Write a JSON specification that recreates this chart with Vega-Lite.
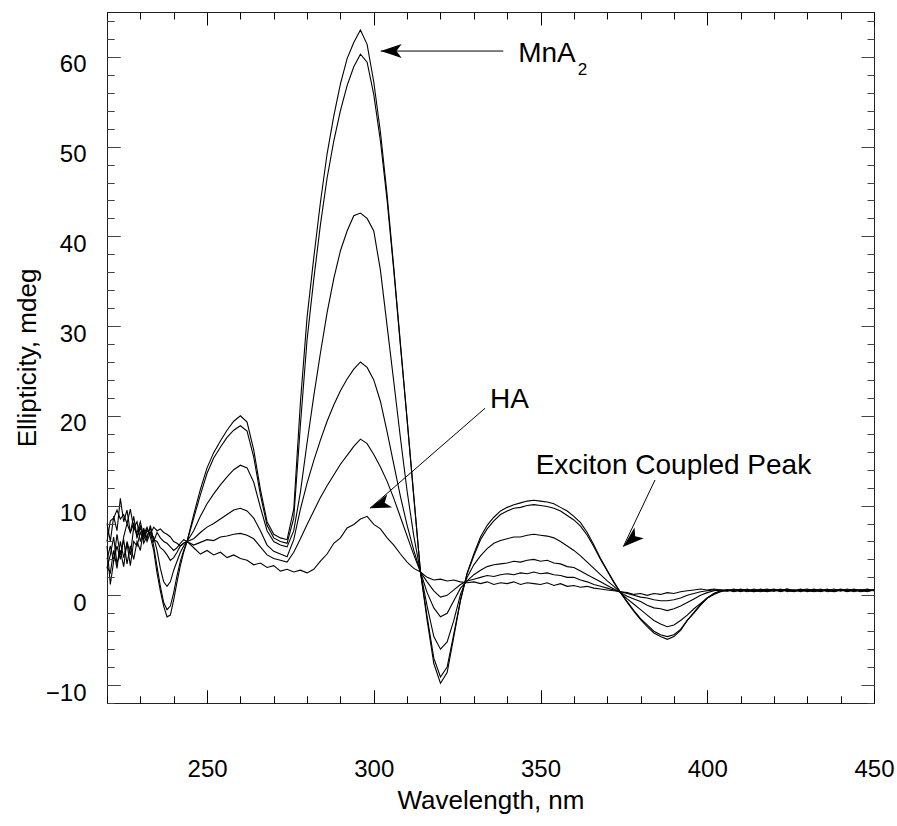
{
"$schema":"https://vega.github.io/schema/vega-lite/v6.json",
"width":767,"height":691,
"autosize":{"type":"none"},
"padding":{"left":107,"top":12,"right":23,"bottom":123},
"background":"white",
"config":{"view":{"stroke":"#222","strokeWidth":1,"fill":null},"font":"Liberation Sans"},
"datasets":{
"spectra":[
{"s":1,"w":220,"v":5.5},{"s":1,"w":221,"v":1.2},{"s":1,"w":222,"v":3.8},{"s":1,"w":223,"v":5.5},{"s":1,"w":224,"v":4.0},{"s":1,"w":225,"v":6.5},{"s":1,"w":226,"v":8.0},{"s":1,"w":227,"v":7.0},{"s":1,"w":228,"v":8.8},{"s":1,"w":229,"v":6.5},{"s":1,"w":230,"v":7.5},{"s":1,"w":231,"v":6.8},{"s":1,"w":232,"v":7.6},{"s":1,"w":233,"v":6.5},{"s":1,"w":234,"v":5.0},{"s":1,"w":235,"v":2.5},{"s":1,"w":236,"v":0.5},{"s":1,"w":237,"v":-1.2},{"s":1,"w":238,"v":-2.4},{"s":1,"w":239,"v":-2.2},{"s":1,"w":240,"v":-0.5},{"s":1,"w":241,"v":1.5},{"s":1,"w":242,"v":3.3},{"s":1,"w":243,"v":4.8},{"s":1,"w":244,"v":6.0},
{"s":1,"w":246,"v":9.0},{"s":1,"w":248,"v":11.8},{"s":1,"w":250,"v":14.2},{"s":1,"w":252,"v":15.9},{"s":1,"w":254,"v":17.2},{"s":1,"w":256,"v":18.4},{"s":1,"w":258,"v":19.4},{"s":1,"w":260,"v":20.0},{"s":1,"w":262,"v":19.3},{"s":1,"w":264,"v":16.2},{"s":1,"w":266,"v":11.8},{"s":1,"w":268,"v":8.2},{"s":1,"w":270,"v":6.8},{"s":1,"w":272,"v":6.4},{"s":1,"w":274,"v":6.2},{"s":1,"w":276,"v":9.6},{"s":1,"w":278,"v":21.5},{"s":1,"w":280,"v":31.0},{"s":1,"w":282,"v":37.6},{"s":1,"w":284,"v":43.8},{"s":1,"w":286,"v":49.2},{"s":1,"w":288,"v":53.4},{"s":1,"w":290,"v":57.0},{"s":1,"w":292,"v":59.8},{"s":1,"w":294,"v":61.6},{"s":1,"w":296,"v":63.0},{"s":1,"w":298,"v":61.4},{"s":1,"w":300,"v":57.2},{"s":1,"w":302,"v":51.6},{"s":1,"w":304,"v":44.6},{"s":1,"w":306,"v":36.5},{"s":1,"w":308,"v":28.0},{"s":1,"w":310,"v":19.6},{"s":1,"w":312,"v":11.0},{"s":1,"w":314,"v":2.6},{"s":1,"w":316,"v":-2.8},{"s":1,"w":318,"v":-7.6},{"s":1,"w":320,"v":-9.8},{"s":1,"w":322,"v":-8.6},{"s":1,"w":324,"v":-4.6},{"s":1,"w":326,"v":-0.6},{"s":1,"w":328,"v":2.5},{"s":1,"w":330,"v":4.6},{"s":1,"w":332,"v":6.5},{"s":1,"w":334,"v":7.8},{"s":1,"w":336,"v":8.7},{"s":1,"w":338,"v":9.4},{"s":1,"w":340,"v":9.8},{"s":1,"w":342,"v":10.1},{"s":1,"w":344,"v":10.3},{"s":1,"w":346,"v":10.5},{"s":1,"w":348,"v":10.6},{"s":1,"w":350,"v":10.5},{"s":1,"w":352,"v":10.4},{"s":1,"w":354,"v":10.2},{"s":1,"w":356,"v":9.8},{"s":1,"w":358,"v":9.4},{"s":1,"w":360,"v":8.8},{"s":1,"w":362,"v":8.1},{"s":1,"w":364,"v":7.0},{"s":1,"w":366,"v":5.6},{"s":1,"w":368,"v":4.1},{"s":1,"w":370,"v":2.8},{"s":1,"w":372,"v":1.5},{"s":1,"w":374,"v":0.3},{"s":1,"w":376,"v":-0.8},{"s":1,"w":378,"v":-1.8},{"s":1,"w":380,"v":-2.7},{"s":1,"w":382,"v":-3.5},{"s":1,"w":384,"v":-4.2},{"s":1,"w":386,"v":-4.6},{"s":1,"w":388,"v":-4.9},{"s":1,"w":390,"v":-4.6},{"s":1,"w":392,"v":-3.9},{"s":1,"w":394,"v":-2.8},{"s":1,"w":396,"v":-2.0},{"s":1,"w":398,"v":-1.1},{"s":1,"w":400,"v":-0.3},{"s":1,"w":402,"v":0.2},{"s":1,"w":404,"v":0.5},{"s":1,"w":406,"v":0.5},{"s":1,"w":408,"v":0.6},{"s":1,"w":410,"v":0.4},{"s":1,"w":412,"v":0.6},{"s":1,"w":414,"v":0.5},{"s":1,"w":416,"v":0.7},{"s":1,"w":418,"v":0.5},{"s":1,"w":420,"v":0.6},{"s":1,"w":422,"v":0.4},{"s":1,"w":424,"v":0.6},{"s":1,"w":426,"v":0.5},{"s":1,"w":428,"v":0.7},{"s":1,"w":430,"v":0.5},{"s":1,"w":432,"v":0.4},{"s":1,"w":434,"v":0.6},{"s":1,"w":436,"v":0.5},{"s":1,"w":438,"v":0.7},{"s":1,"w":440,"v":0.5},{"s":1,"w":442,"v":0.6},{"s":1,"w":444,"v":0.4},{"s":1,"w":446,"v":0.6},{"s":1,"w":448,"v":0.7},{"s":1,"w":450,"v":0.5},
{"s":2,"w":220,"v":3.0},{"s":2,"w":221,"v":4.5},{"s":2,"w":222,"v":6.5},{"s":2,"w":223,"v":3.5},{"s":2,"w":224,"v":5.0},{"s":2,"w":225,"v":3.2},{"s":2,"w":226,"v":6.0},{"s":2,"w":227,"v":4.5},{"s":2,"w":228,"v":7.5},{"s":2,"w":229,"v":8.2},{"s":2,"w":230,"v":6.0},{"s":2,"w":231,"v":7.2},{"s":2,"w":232,"v":6.0},{"s":2,"w":233,"v":7.0},{"s":2,"w":234,"v":5.5},{"s":2,"w":235,"v":3.2},{"s":2,"w":236,"v":1.0},{"s":2,"w":237,"v":-0.8},{"s":2,"w":238,"v":-1.6},{"s":2,"w":239,"v":-1.2},{"s":2,"w":240,"v":0.3},{"s":2,"w":241,"v":2.2},{"s":2,"w":242,"v":3.8},{"s":2,"w":243,"v":5.0},{"s":2,"w":244,"v":6.0},
{"s":2,"w":246,"v":8.6},{"s":2,"w":248,"v":11.2},{"s":2,"w":250,"v":13.6},{"s":2,"w":252,"v":15.3},{"s":2,"w":254,"v":16.5},{"s":2,"w":256,"v":17.6},{"s":2,"w":258,"v":18.4},{"s":2,"w":260,"v":18.9},{"s":2,"w":262,"v":18.3},{"s":2,"w":264,"v":15.4},{"s":2,"w":266,"v":11.2},{"s":2,"w":268,"v":7.8},{"s":2,"w":270,"v":6.4},{"s":2,"w":272,"v":6.0},{"s":2,"w":274,"v":5.8},{"s":2,"w":276,"v":8.6},{"s":2,"w":278,"v":19.0},{"s":2,"w":280,"v":28.5},{"s":2,"w":282,"v":35.2},{"s":2,"w":284,"v":41.3},{"s":2,"w":286,"v":46.5},{"s":2,"w":288,"v":50.6},{"s":2,"w":290,"v":54.0},{"s":2,"w":292,"v":56.8},{"s":2,"w":294,"v":58.9},{"s":2,"w":296,"v":60.3},{"s":2,"w":298,"v":59.4},{"s":2,"w":300,"v":55.8},{"s":2,"w":302,"v":50.6},{"s":2,"w":304,"v":44.0},{"s":2,"w":306,"v":36.2},{"s":2,"w":308,"v":27.8},{"s":2,"w":310,"v":19.5},{"s":2,"w":312,"v":11.0},{"s":2,"w":314,"v":2.6},{"s":2,"w":316,"v":-2.4},{"s":2,"w":318,"v":-7.0},{"s":2,"w":320,"v":-9.1},{"s":2,"w":322,"v":-8.0},{"s":2,"w":324,"v":-4.3},{"s":2,"w":326,"v":-0.5},{"s":2,"w":328,"v":2.4},{"s":2,"w":330,"v":4.4},{"s":2,"w":332,"v":6.2},{"s":2,"w":334,"v":7.4},{"s":2,"w":336,"v":8.3},{"s":2,"w":338,"v":9.0},{"s":2,"w":340,"v":9.4},{"s":2,"w":342,"v":9.7},{"s":2,"w":344,"v":9.8},{"s":2,"w":346,"v":10.0},{"s":2,"w":348,"v":10.1},{"s":2,"w":350,"v":10.0},{"s":2,"w":352,"v":9.9},{"s":2,"w":354,"v":9.7},{"s":2,"w":356,"v":9.4},{"s":2,"w":358,"v":8.9},{"s":2,"w":360,"v":8.4},{"s":2,"w":362,"v":7.7},{"s":2,"w":364,"v":6.7},{"s":2,"w":366,"v":5.4},{"s":2,"w":368,"v":4.0},{"s":2,"w":370,"v":2.7},{"s":2,"w":372,"v":1.4},{"s":2,"w":374,"v":0.3},{"s":2,"w":376,"v":-0.7},{"s":2,"w":378,"v":-1.7},{"s":2,"w":380,"v":-2.6},{"s":2,"w":382,"v":-3.3},{"s":2,"w":384,"v":-4.0},{"s":2,"w":386,"v":-4.4},{"s":2,"w":388,"v":-4.6},{"s":2,"w":390,"v":-4.4},{"s":2,"w":392,"v":-3.8},{"s":2,"w":394,"v":-2.8},{"s":2,"w":396,"v":-1.9},{"s":2,"w":398,"v":-1.0},{"s":2,"w":400,"v":-0.3},{"s":2,"w":402,"v":0.2},{"s":2,"w":404,"v":0.5},{"s":2,"w":406,"v":0.6},{"s":2,"w":408,"v":0.5},{"s":2,"w":410,"v":0.7},{"s":2,"w":412,"v":0.5},{"s":2,"w":414,"v":0.4},{"s":2,"w":416,"v":0.6},{"s":2,"w":418,"v":0.7},{"s":2,"w":420,"v":0.5},{"s":2,"w":422,"v":0.6},{"s":2,"w":424,"v":0.5},{"s":2,"w":426,"v":0.4},{"s":2,"w":428,"v":0.6},{"s":2,"w":430,"v":0.7},{"s":2,"w":432,"v":0.5},{"s":2,"w":434,"v":0.5},{"s":2,"w":436,"v":0.7},{"s":2,"w":438,"v":0.4},{"s":2,"w":440,"v":0.6},{"s":2,"w":442,"v":0.5},{"s":2,"w":444,"v":0.7},{"s":2,"w":446,"v":0.5},{"s":2,"w":448,"v":0.6},{"s":2,"w":450,"v":0.6},
{"s":3,"w":220,"v":6.0},{"s":3,"w":221,"v":8.3},{"s":3,"w":222,"v":8.6},{"s":3,"w":223,"v":9.5},{"s":3,"w":224,"v":8.5},{"s":3,"w":225,"v":9.0},{"s":3,"w":226,"v":8.0},{"s":3,"w":227,"v":9.6},{"s":3,"w":228,"v":7.5},{"s":3,"w":229,"v":7.0},{"s":3,"w":230,"v":8.2},{"s":3,"w":231,"v":6.5},{"s":3,"w":232,"v":7.4},{"s":3,"w":233,"v":6.8},{"s":3,"w":234,"v":6.5},{"s":3,"w":235,"v":5.0},{"s":3,"w":236,"v":3.0},{"s":3,"w":237,"v":1.5},{"s":3,"w":238,"v":1.0},{"s":3,"w":239,"v":1.5},{"s":3,"w":240,"v":2.8},{"s":3,"w":241,"v":3.8},{"s":3,"w":242,"v":4.8},{"s":3,"w":243,"v":5.5},{"s":3,"w":244,"v":6.0},
{"s":3,"w":246,"v":7.2},{"s":3,"w":248,"v":8.8},{"s":3,"w":250,"v":10.2},{"s":3,"w":252,"v":11.3},{"s":3,"w":254,"v":12.3},{"s":3,"w":256,"v":13.2},{"s":3,"w":258,"v":14.0},{"s":3,"w":260,"v":14.5},{"s":3,"w":262,"v":14.2},{"s":3,"w":264,"v":12.6},{"s":3,"w":266,"v":9.8},{"s":3,"w":268,"v":7.2},{"s":3,"w":270,"v":6.0},{"s":3,"w":272,"v":5.6},{"s":3,"w":274,"v":5.4},{"s":3,"w":276,"v":7.2},{"s":3,"w":278,"v":11.5},{"s":3,"w":280,"v":17.0},{"s":3,"w":282,"v":22.2},{"s":3,"w":284,"v":27.0},{"s":3,"w":286,"v":31.5},{"s":3,"w":288,"v":35.3},{"s":3,"w":290,"v":38.4},{"s":3,"w":292,"v":40.6},{"s":3,"w":294,"v":42.3},{"s":3,"w":296,"v":42.6},{"s":3,"w":298,"v":42.0},{"s":3,"w":300,"v":40.6},{"s":3,"w":302,"v":36.2},{"s":3,"w":304,"v":30.0},{"s":3,"w":306,"v":23.8},{"s":3,"w":308,"v":17.5},{"s":3,"w":310,"v":11.6},{"s":3,"w":312,"v":6.6},{"s":3,"w":314,"v":2.6},{"s":3,"w":316,"v":-1.2},{"s":3,"w":318,"v":-4.6},{"s":3,"w":320,"v":-6.0},{"s":3,"w":322,"v":-5.2},{"s":3,"w":324,"v":-2.8},{"s":3,"w":326,"v":0.1},{"s":3,"w":328,"v":2.0},{"s":3,"w":330,"v":3.4},{"s":3,"w":332,"v":4.4},{"s":3,"w":334,"v":5.2},{"s":3,"w":336,"v":5.8},{"s":3,"w":338,"v":6.1},{"s":3,"w":340,"v":6.3},{"s":3,"w":342,"v":6.5},{"s":3,"w":344,"v":6.5},{"s":3,"w":346,"v":6.7},{"s":3,"w":348,"v":6.8},{"s":3,"w":350,"v":6.7},{"s":3,"w":352,"v":6.6},{"s":3,"w":354,"v":6.4},{"s":3,"w":356,"v":6.0},{"s":3,"w":358,"v":5.5},{"s":3,"w":360,"v":5.0},{"s":3,"w":362,"v":4.4},{"s":3,"w":364,"v":3.7},{"s":3,"w":366,"v":3.0},{"s":3,"w":368,"v":2.3},{"s":3,"w":370,"v":1.6},{"s":3,"w":372,"v":1.0},{"s":3,"w":374,"v":0.3},{"s":3,"w":376,"v":-0.4},{"s":3,"w":378,"v":-1.0},{"s":3,"w":380,"v":-1.6},{"s":3,"w":382,"v":-2.2},{"s":3,"w":384,"v":-2.8},{"s":3,"w":386,"v":-3.2},{"s":3,"w":388,"v":-3.5},{"s":3,"w":390,"v":-3.3},{"s":3,"w":392,"v":-2.8},{"s":3,"w":394,"v":-2.2},{"s":3,"w":396,"v":-1.5},{"s":3,"w":398,"v":-0.9},{"s":3,"w":400,"v":-0.3},{"s":3,"w":402,"v":0.1},{"s":3,"w":404,"v":0.4},{"s":3,"w":406,"v":0.6},{"s":3,"w":408,"v":0.5},{"s":3,"w":410,"v":0.6},{"s":3,"w":412,"v":0.4},{"s":3,"w":414,"v":0.6},{"s":3,"w":416,"v":0.5},{"s":3,"w":418,"v":0.6},{"s":3,"w":420,"v":0.7},{"s":3,"w":422,"v":0.5},{"s":3,"w":424,"v":0.6},{"s":3,"w":426,"v":0.6},{"s":3,"w":428,"v":0.4},{"s":3,"w":430,"v":0.6},{"s":3,"w":432,"v":0.6},{"s":3,"w":434,"v":0.4},{"s":3,"w":436,"v":0.6},{"s":3,"w":438,"v":0.6},{"s":3,"w":440,"v":0.5},{"s":3,"w":442,"v":0.7},{"s":3,"w":444,"v":0.5},{"s":3,"w":446,"v":0.6},{"s":3,"w":448,"v":0.5},{"s":3,"w":450,"v":0.6},
{"s":4,"w":220,"v":8.0},{"s":4,"w":221,"v":6.0},{"s":4,"w":222,"v":8.8},{"s":4,"w":223,"v":7.2},{"s":4,"w":224,"v":10.8},{"s":4,"w":225,"v":8.2},{"s":4,"w":226,"v":9.5},{"s":4,"w":227,"v":7.0},{"s":4,"w":228,"v":8.0},{"s":4,"w":229,"v":6.5},{"s":4,"w":230,"v":7.8},{"s":4,"w":231,"v":5.8},{"s":4,"w":232,"v":6.6},{"s":4,"w":233,"v":7.5},{"s":4,"w":234,"v":6.2},{"s":4,"w":235,"v":6.0},{"s":4,"w":236,"v":5.3},{"s":4,"w":237,"v":5.0},{"s":4,"w":238,"v":4.5},{"s":4,"w":239,"v":3.9},{"s":4,"w":240,"v":4.2},{"s":4,"w":241,"v":4.8},{"s":4,"w":242,"v":5.5},{"s":4,"w":243,"v":5.8},{"s":4,"w":244,"v":6.0},
{"s":4,"w":246,"v":6.3},{"s":4,"w":248,"v":7.0},{"s":4,"w":250,"v":7.6},{"s":4,"w":252,"v":8.0},{"s":4,"w":254,"v":8.5},{"s":4,"w":256,"v":9.0},{"s":4,"w":258,"v":9.5},{"s":4,"w":260,"v":9.7},{"s":4,"w":262,"v":9.4},{"s":4,"w":264,"v":8.6},{"s":4,"w":266,"v":7.2},{"s":4,"w":268,"v":5.6},{"s":4,"w":270,"v":4.9},{"s":4,"w":272,"v":4.6},{"s":4,"w":274,"v":4.3},{"s":4,"w":276,"v":6.2},{"s":4,"w":278,"v":9.6},{"s":4,"w":280,"v":12.5},{"s":4,"w":282,"v":15.0},{"s":4,"w":284,"v":17.3},{"s":4,"w":286,"v":19.4},{"s":4,"w":288,"v":21.2},{"s":4,"w":290,"v":22.8},{"s":4,"w":292,"v":24.1},{"s":4,"w":294,"v":25.2},{"s":4,"w":296,"v":26.0},{"s":4,"w":298,"v":25.4},{"s":4,"w":300,"v":24.0},{"s":4,"w":302,"v":21.6},{"s":4,"w":304,"v":18.2},{"s":4,"w":306,"v":14.6},{"s":4,"w":308,"v":11.0},{"s":4,"w":310,"v":7.8},{"s":4,"w":312,"v":5.0},{"s":4,"w":314,"v":2.6},{"s":4,"w":316,"v":0.3},{"s":4,"w":318,"v":-1.4},{"s":4,"w":320,"v":-2.4},{"s":4,"w":322,"v":-2.0},{"s":4,"w":324,"v":-0.6},{"s":4,"w":326,"v":0.8},{"s":4,"w":328,"v":1.6},{"s":4,"w":330,"v":2.3},{"s":4,"w":332,"v":2.8},{"s":4,"w":334,"v":3.2},{"s":4,"w":336,"v":3.4},{"s":4,"w":338,"v":3.5},{"s":4,"w":340,"v":3.6},{"s":4,"w":342,"v":3.8},{"s":4,"w":344,"v":3.7},{"s":4,"w":346,"v":3.9},{"s":4,"w":348,"v":4.0},{"s":4,"w":350,"v":3.8},{"s":4,"w":352,"v":3.9},{"s":4,"w":354,"v":3.6},{"s":4,"w":356,"v":3.5},{"s":4,"w":358,"v":3.2},{"s":4,"w":360,"v":3.1},{"s":4,"w":362,"v":2.7},{"s":4,"w":364,"v":2.3},{"s":4,"w":366,"v":1.9},{"s":4,"w":368,"v":1.5},{"s":4,"w":370,"v":1.1},{"s":4,"w":372,"v":0.7},{"s":4,"w":374,"v":0.3},{"s":4,"w":376,"v":-0.1},{"s":4,"w":378,"v":-0.4},{"s":4,"w":380,"v":-0.7},{"s":4,"w":382,"v":-1.1},{"s":4,"w":384,"v":-1.4},{"s":4,"w":386,"v":-1.5},{"s":4,"w":388,"v":-1.7},{"s":4,"w":390,"v":-1.5},{"s":4,"w":392,"v":-1.2},{"s":4,"w":394,"v":-0.8},{"s":4,"w":396,"v":-0.4},{"s":4,"w":398,"v":0.0},{"s":4,"w":400,"v":0.3},{"s":4,"w":402,"v":0.5},{"s":4,"w":404,"v":0.6},{"s":4,"w":406,"v":0.5},{"s":4,"w":408,"v":0.6},{"s":4,"w":410,"v":0.5},{"s":4,"w":412,"v":0.7},{"s":4,"w":414,"v":0.4},{"s":4,"w":416,"v":0.6},{"s":4,"w":418,"v":0.5},{"s":4,"w":420,"v":0.5},{"s":4,"w":422,"v":0.7},{"s":4,"w":424,"v":0.4},{"s":4,"w":426,"v":0.6},{"s":4,"w":428,"v":0.5},{"s":4,"w":430,"v":0.6},{"s":4,"w":432,"v":0.5},{"s":4,"w":434,"v":0.7},{"s":4,"w":436,"v":0.4},{"s":4,"w":438,"v":0.5},{"s":4,"w":440,"v":0.6},{"s":4,"w":442,"v":0.4},{"s":4,"w":444,"v":0.6},{"s":4,"w":446,"v":0.5},{"s":4,"w":448,"v":0.6},{"s":4,"w":450,"v":0.5},
{"s":5,"w":220,"v":4.0},{"s":5,"w":221,"v":5.5},{"s":5,"w":222,"v":3.8},{"s":5,"w":223,"v":6.8},{"s":5,"w":224,"v":4.5},{"s":5,"w":225,"v":6.2},{"s":5,"w":226,"v":3.5},{"s":5,"w":227,"v":5.5},{"s":5,"w":228,"v":4.0},{"s":5,"w":229,"v":6.0},{"s":5,"w":230,"v":5.0},{"s":5,"w":231,"v":7.5},{"s":5,"w":232,"v":6.3},{"s":5,"w":233,"v":7.8},{"s":5,"w":234,"v":6.0},{"s":5,"w":235,"v":7.0},{"s":5,"w":236,"v":6.4},{"s":5,"w":237,"v":6.0},{"s":5,"w":238,"v":5.8},{"s":5,"w":239,"v":5.4},{"s":5,"w":240,"v":5.0},{"s":5,"w":241,"v":5.3},{"s":5,"w":242,"v":5.8},{"s":5,"w":243,"v":6.2},{"s":5,"w":244,"v":6.0},
{"s":5,"w":246,"v":5.6},{"s":5,"w":248,"v":5.9},{"s":5,"w":250,"v":6.2},{"s":5,"w":252,"v":6.1},{"s":5,"w":254,"v":6.5},{"s":5,"w":256,"v":6.6},{"s":5,"w":258,"v":6.8},{"s":5,"w":260,"v":6.9},{"s":5,"w":262,"v":6.7},{"s":5,"w":264,"v":6.3},{"s":5,"w":266,"v":5.4},{"s":5,"w":268,"v":4.5},{"s":5,"w":270,"v":4.1},{"s":5,"w":272,"v":3.9},{"s":5,"w":274,"v":3.7},{"s":5,"w":276,"v":4.8},{"s":5,"w":278,"v":6.3},{"s":5,"w":280,"v":7.9},{"s":5,"w":282,"v":9.4},{"s":5,"w":284,"v":10.9},{"s":5,"w":286,"v":12.2},{"s":5,"w":288,"v":13.4},{"s":5,"w":290,"v":14.6},{"s":5,"w":292,"v":15.6},{"s":5,"w":294,"v":16.6},{"s":5,"w":296,"v":17.4},{"s":5,"w":298,"v":16.9},{"s":5,"w":300,"v":15.7},{"s":5,"w":302,"v":14.3},{"s":5,"w":304,"v":12.7},{"s":5,"w":306,"v":10.8},{"s":5,"w":308,"v":8.7},{"s":5,"w":310,"v":6.6},{"s":5,"w":312,"v":4.5},{"s":5,"w":314,"v":2.6},{"s":5,"w":316,"v":1.5},{"s":5,"w":318,"v":0.5},{"s":5,"w":320,"v":-0.2},{"s":5,"w":322,"v":0.0},{"s":5,"w":324,"v":0.6},{"s":5,"w":326,"v":1.2},{"s":5,"w":328,"v":1.6},{"s":5,"w":330,"v":1.8},{"s":5,"w":332,"v":2.0},{"s":5,"w":334,"v":2.2},{"s":5,"w":336,"v":2.1},{"s":5,"w":338,"v":2.3},{"s":5,"w":340,"v":2.4},{"s":5,"w":342,"v":2.3},{"s":5,"w":344,"v":2.5},{"s":5,"w":346,"v":2.4},{"s":5,"w":348,"v":2.6},{"s":5,"w":350,"v":2.4},{"s":5,"w":352,"v":2.5},{"s":5,"w":354,"v":2.3},{"s":5,"w":356,"v":2.2},{"s":5,"w":358,"v":2.0},{"s":5,"w":360,"v":2.0},{"s":5,"w":362,"v":1.7},{"s":5,"w":364,"v":1.5},{"s":5,"w":366,"v":1.2},{"s":5,"w":368,"v":1.0},{"s":5,"w":370,"v":0.8},{"s":5,"w":372,"v":0.6},{"s":5,"w":374,"v":0.4},{"s":5,"w":376,"v":0.2},{"s":5,"w":378,"v":0.0},{"s":5,"w":380,"v":-0.2},{"s":5,"w":382,"v":-0.3},{"s":5,"w":384,"v":-0.5},{"s":5,"w":386,"v":-0.6},{"s":5,"w":388,"v":-0.6},{"s":5,"w":390,"v":-0.5},{"s":5,"w":392,"v":-0.3},{"s":5,"w":394,"v":0.0},{"s":5,"w":396,"v":0.2},{"s":5,"w":398,"v":0.4},{"s":5,"w":400,"v":0.5},{"s":5,"w":402,"v":0.6},{"s":5,"w":404,"v":0.5},{"s":5,"w":406,"v":0.6},{"s":5,"w":408,"v":0.4},{"s":5,"w":410,"v":0.6},{"s":5,"w":412,"v":0.5},{"s":5,"w":414,"v":0.7},{"s":5,"w":416,"v":0.5},{"s":5,"w":418,"v":0.4},{"s":5,"w":420,"v":0.6},{"s":5,"w":422,"v":0.5},{"s":5,"w":424,"v":0.7},{"s":5,"w":426,"v":0.5},{"s":5,"w":428,"v":0.6},{"s":5,"w":430,"v":0.4},{"s":5,"w":432,"v":0.6},{"s":5,"w":434,"v":0.5},{"s":5,"w":436,"v":0.6},{"s":5,"w":438,"v":0.5},{"s":5,"w":440,"v":0.7},{"s":5,"w":442,"v":0.5},{"s":5,"w":444,"v":0.6},{"s":5,"w":446,"v":0.4},{"s":5,"w":448,"v":0.5},{"s":5,"w":450,"v":0.6},
{"s":6,"w":220,"v":3.2},{"s":6,"w":221,"v":2.5},{"s":6,"w":222,"v":5.0},{"s":6,"w":223,"v":3.0},{"s":6,"w":224,"v":6.0},{"s":6,"w":225,"v":4.2},{"s":6,"w":226,"v":5.8},{"s":6,"w":227,"v":3.3},{"s":6,"w":228,"v":6.0},{"s":6,"w":229,"v":5.5},{"s":6,"w":230,"v":7.0},{"s":6,"w":231,"v":6.2},{"s":6,"w":232,"v":7.2},{"s":6,"w":233,"v":6.8},{"s":6,"w":234,"v":7.6},{"s":6,"w":235,"v":7.2},{"s":6,"w":236,"v":7.4},{"s":6,"w":237,"v":7.0},{"s":6,"w":238,"v":6.8},{"s":6,"w":239,"v":6.5},{"s":6,"w":240,"v":6.0},{"s":6,"w":241,"v":5.8},{"s":6,"w":242,"v":5.5},{"s":6,"w":243,"v":5.8},{"s":6,"w":244,"v":6.0},
{"s":6,"w":246,"v":5.3},{"s":6,"w":248,"v":4.6},{"s":6,"w":250,"v":5.0},{"s":6,"w":252,"v":4.5},{"s":6,"w":254,"v":4.8},{"s":6,"w":256,"v":4.2},{"s":6,"w":258,"v":4.5},{"s":6,"w":260,"v":4.1},{"s":6,"w":262,"v":3.9},{"s":6,"w":264,"v":3.4},{"s":6,"w":266,"v":3.6},{"s":6,"w":268,"v":3.1},{"s":6,"w":270,"v":3.3},{"s":6,"w":272,"v":2.7},{"s":6,"w":274,"v":2.9},{"s":6,"w":276,"v":2.6},{"s":6,"w":278,"v":2.8},{"s":6,"w":280,"v":2.5},{"s":6,"w":282,"v":2.9},{"s":6,"w":284,"v":3.8},{"s":6,"w":286,"v":4.6},{"s":6,"w":288,"v":5.8},{"s":6,"w":290,"v":6.4},{"s":6,"w":292,"v":7.5},{"s":6,"w":294,"v":7.9},{"s":6,"w":296,"v":8.5},{"s":6,"w":298,"v":8.8},{"s":6,"w":300,"v":7.9},{"s":6,"w":302,"v":7.4},{"s":6,"w":304,"v":6.4},{"s":6,"w":306,"v":5.6},{"s":6,"w":308,"v":4.6},{"s":6,"w":310,"v":3.7},{"s":6,"w":312,"v":3.0},{"s":6,"w":314,"v":2.6},{"s":6,"w":316,"v":2.0},{"s":6,"w":318,"v":1.7},{"s":6,"w":320,"v":1.8},{"s":6,"w":322,"v":1.6},{"s":6,"w":324,"v":1.7},{"s":6,"w":326,"v":1.5},{"s":6,"w":328,"v":1.4},{"s":6,"w":330,"v":1.5},{"s":6,"w":332,"v":1.3},{"s":6,"w":334,"v":1.5},{"s":6,"w":336,"v":1.2},{"s":6,"w":338,"v":1.4},{"s":6,"w":340,"v":1.3},{"s":6,"w":342,"v":1.5},{"s":6,"w":344,"v":1.2},{"s":6,"w":346,"v":1.4},{"s":6,"w":348,"v":1.3},{"s":6,"w":350,"v":1.2},{"s":6,"w":352,"v":1.4},{"s":6,"w":354,"v":1.1},{"s":6,"w":356,"v":1.3},{"s":6,"w":358,"v":1.0},{"s":6,"w":360,"v":1.1},{"s":6,"w":362,"v":0.9},{"s":6,"w":364,"v":1.0},{"s":6,"w":366,"v":0.8},{"s":6,"w":368,"v":0.7},{"s":6,"w":370,"v":0.6},{"s":6,"w":372,"v":0.5},{"s":6,"w":374,"v":0.4},{"s":6,"w":376,"v":0.3},{"s":6,"w":378,"v":0.1},{"s":6,"w":380,"v":0.2},{"s":6,"w":382,"v":0.0},{"s":6,"w":384,"v":0.2},{"s":6,"w":386,"v":0.1},{"s":6,"w":388,"v":0.3},{"s":6,"w":390,"v":0.2},{"s":6,"w":392,"v":0.4},{"s":6,"w":394,"v":0.5},{"s":6,"w":396,"v":0.6},{"s":6,"w":398,"v":0.7},{"s":6,"w":400,"v":0.6},{"s":6,"w":402,"v":0.7},{"s":6,"w":404,"v":0.6},{"s":6,"w":406,"v":0.5},{"s":6,"w":408,"v":0.7},{"s":6,"w":410,"v":0.5},{"s":6,"w":412,"v":0.6},{"s":6,"w":414,"v":0.5},{"s":6,"w":416,"v":0.4},{"s":6,"w":418,"v":0.6},{"s":6,"w":420,"v":0.5},{"s":6,"w":422,"v":0.6},{"s":6,"w":424,"v":0.7},{"s":6,"w":426,"v":0.5},{"s":6,"w":428,"v":0.6},{"s":6,"w":430,"v":0.5},{"s":6,"w":432,"v":0.7},{"s":6,"w":434,"v":0.5},{"s":6,"w":436,"v":0.6},{"s":6,"w":438,"v":0.4},{"s":6,"w":440,"v":0.6},{"s":6,"w":442,"v":0.5},{"s":6,"w":444,"v":0.6},{"s":6,"w":446,"v":0.6},{"s":6,"w":448,"v":0.4},{"s":6,"w":450,"v":0.6}
],
"arrows":[
{"arrow":"MnA2","w":302.07,"v":60.65,"w2":338.84,"v2":60.65},
{"arrow":"HA","w":298.86,"v":9.7,"w2":333.35,"v2":20.84},
{"arrow":"Exciton","w":374.82,"v":5.42,"w2":384.33,"v2":12.85}
],
"notes":[
{"t":"MnA","w":343.3,"v":59.46},
{"t":"HA","w":334.85,"v":20.84},
{"t":"Exciton Coupled Peak","w":348.55,"v":13.52}
],
"subs":[
{"t":"2","w":361.2,"v":57.97}
]
},
"layer":[
{
"data":{"name":"spectra"},
"mark":{"type":"line","color":"black","strokeWidth":1.1},
"encoding":{
"x":{"field":"w","type":"quantitative","scale":{"domain":[220,450],"nice":false,"zero":false},
"axis":{"orient":"bottom","zindex":1,"tickCount":100,"values":[220,230,240,250,260,270,280,290,300,310,320,330,340,350,360,370,380,390,400,410,420,430,440,450],
"domain":false,"ticks":true,"tickColor":"black","tickWidth":1,"tickOpacity":1,
"tickSize":{"condition":{"test":"datum.value % 50 === 0","value":-13},"value":-7},
"grid":true,"gridColor":"black","gridOpacity":1,"gridWidth":1,
"gridDash":{"condition":{"test":"datum.value % 50 === 0","value":[13,665]},"value":[7,677]},
"labelExpr":"datum.value % 50 === 0 ? datum.label : ''",
"labelPadding":67,"labelFontSize":24,"labelColor":"black","labelFlush":false,"labelOverlap":false,"labelBound":false,
"title":"Wavelength, nm","titleFontSize":26,"titleFontWeight":"normal","titleColor":"black",
"titleX":383.5,"titleY":97,"titleAlign":"center","titleBaseline":"middle","titleAngle":0}},
"y":{"field":"v","type":"quantitative","scale":{"domain":[-12,65],"nice":false,"zero":false},
"axis":{"orient":"left","zindex":1,"tickCount":100,"values":[-12,-10,-8,-6,-4,-2,0,2,4,6,8,10,12,14,16,18,20,22,24,26,28,30,32,34,36,38,40,42,44,46,48,50,52,54,56,58,60,62,64],
"domain":false,"ticks":true,"tickColor":"#444","tickWidth":1,"tickOpacity":1,
"tickSize":{"condition":{"test":"datum.value % 10 === 0","value":-13},"value":-7},
"grid":true,"gridColor":"#444","gridOpacity":1,"gridWidth":1,
"gridDash":{"condition":{"test":"datum.value % 10 === 0","value":[13,741]},"value":[7,753]},
"labelExpr":"datum.value % 10 === 0 ? datum.label : ''",
"labelPadding":34,"labelOffset":8,"labelBaseline":"middle","labelFontSize":24,"labelColor":"black","labelFlush":false,"labelOverlap":false,"labelBound":false,
"title":"Ellipticity, mdeg","titleFontSize":26,"titleFontWeight":"normal","titleColor":"black",
"titleX":-80,"titleY":345.5,"titleAngle":-90,"titleAlign":"center","titleBaseline":"middle"}},
"detail":{"field":"s","type":"nominal"}
}
},
{
"data":{"name":"arrows"},
"mark":{"type":"rule","color":"black","strokeWidth":1},
"encoding":{
"x":{"field":"w","type":"quantitative","scale":{"domain":[220,450],"nice":false,"zero":false}},
"x2":{"field":"w2"},
"y":{"field":"v","type":"quantitative","scale":{"domain":[-12,65],"nice":false,"zero":false}},
"y2":{"field":"v2"}
}
},
{
"data":{"name":"arrows"},
"mark":{"type":"point","shape":"M0,0L-2,-0.67L-1.5,0L-2,0.67Z","filled":true,"color":"black","size":441,"opacity":1,"strokeWidth":0},
"encoding":{
"x":{"field":"w","type":"quantitative","scale":{"domain":[220,450],"nice":false,"zero":false}},
"y":{"field":"v","type":"quantitative","scale":{"domain":[-12,65],"nice":false,"zero":false}},
"angle":{"field":"arrow","type":"nominal","scale":{"domain":["MnA2","HA","Exciton"],"range":[180,139,115.4]},"legend":null}
}
},
{
"data":{"name":"notes"},
"mark":{"type":"text","fontSize":28,"color":"black","align":"left","baseline":"alphabetic"},
"encoding":{
"x":{"field":"w","type":"quantitative","scale":{"domain":[220,450],"nice":false,"zero":false}},
"y":{"field":"v","type":"quantitative","scale":{"domain":[-12,65],"nice":false,"zero":false}},
"text":{"field":"t"}
}
},
{
"data":{"name":"subs"},
"mark":{"type":"text","fontSize":17,"color":"black","align":"left","baseline":"alphabetic"},
"encoding":{
"x":{"field":"w","type":"quantitative","scale":{"domain":[220,450],"nice":false,"zero":false}},
"y":{"field":"v","type":"quantitative","scale":{"domain":[-12,65],"nice":false,"zero":false}},
"text":{"field":"t"}
}
}
]
}
